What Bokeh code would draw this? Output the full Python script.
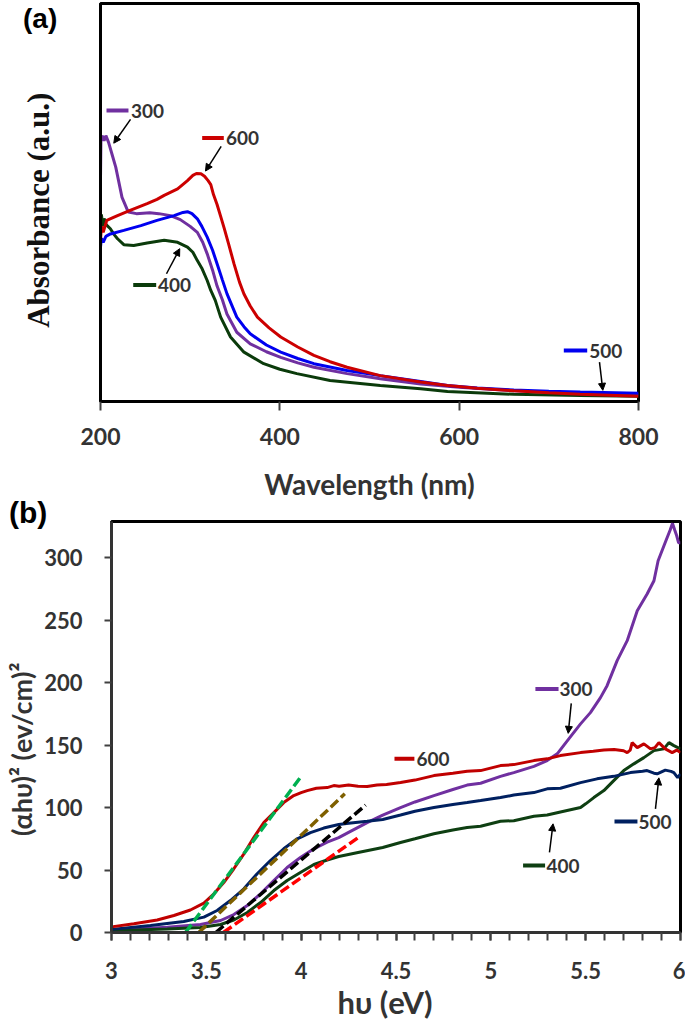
from bokeh.plotting import figure
from bokeh.models import FixedTicker, Range1d, Arrow, NormalHead, Div
from bokeh.embed import file_html
from bokeh.resources import INLINE
from bokeh.core.properties import value

# ---------------- Panel (a): absorbance vs wavelength ----------------
wl_300 = [200, 200.5, 202, 204, 206, 209, 213, 217, 224, 231, 240, 255, 265, 278, 289, 300, 308, 314, 319, 325, 330, 336, 341, 352, 367, 385, 401, 420, 438, 475, 512, 557, 600, 661, 735, 800]
ab_300 = [0.56, 0.66, 0.668, 0.655, 0.668, 0.651, 0.62, 0.589, 0.513, 0.476, 0.472, 0.474, 0.472, 0.467, 0.457, 0.44, 0.425, 0.40, 0.371, 0.33, 0.29, 0.255, 0.22, 0.174, 0.145, 0.125, 0.111, 0.097, 0.086, 0.07, 0.057, 0.044, 0.036, 0.027, 0.021, 0.018]

wl_400 = [200, 201, 202.5, 204, 206, 211, 215, 219, 226, 237, 252, 271, 286, 297, 303, 308, 313, 319, 323, 328, 334, 345, 360, 382, 400, 419, 456, 512, 557, 587, 661, 735, 800]
ab_400 = [0.44, 0.47, 0.44, 0.46, 0.445, 0.434, 0.42, 0.409, 0.394, 0.392, 0.398, 0.405, 0.40, 0.388, 0.375, 0.354, 0.335, 0.304, 0.279, 0.254, 0.212, 0.162, 0.124, 0.095, 0.081, 0.07, 0.053, 0.04, 0.032, 0.025, 0.018, 0.015, 0.013]

wl_500 = [200, 201, 203, 206, 211, 226, 245, 263, 282, 292, 297, 302, 308, 313, 319, 325, 330, 336, 341, 352, 360, 367, 385, 401, 420, 438, 475, 512, 557, 587, 620, 661, 700, 735, 800]
ab_500 = [0.388, 0.41, 0.40, 0.415, 0.421, 0.43, 0.442, 0.455, 0.467, 0.475, 0.477, 0.472, 0.459, 0.44, 0.413, 0.38, 0.346, 0.305, 0.271, 0.212, 0.188, 0.17, 0.142, 0.124, 0.108, 0.095, 0.078, 0.065, 0.05, 0.04, 0.034, 0.029, 0.026, 0.024, 0.021]

wl_600 = [200, 201, 203, 207, 212, 219, 233, 252, 263, 271, 286, 297, 303, 307, 312, 316, 320, 323, 326, 330, 334, 338, 343, 349, 355, 360, 367, 375, 388, 401, 420, 438, 456, 475, 512, 557, 587, 620, 661, 700, 735, 800]
ab_600 = [0.405, 0.44, 0.425, 0.455, 0.46, 0.467, 0.48, 0.497, 0.508, 0.518, 0.534, 0.555, 0.568, 0.573, 0.572, 0.566, 0.555, 0.545, 0.52, 0.495, 0.465, 0.435, 0.395, 0.345, 0.30, 0.27, 0.24, 0.212, 0.185, 0.162, 0.137, 0.116, 0.10, 0.086, 0.065, 0.049, 0.04, 0.033, 0.027, 0.022, 0.018, 0.013]

a_ticks = [200, 400, 600, 800]

# ---------------- Panel (b): Tauc plot ----------------
E_300 = [3.0, 3.294, 3.469, 3.575, 3.645, 3.716, 3.786, 3.856, 3.926, 3.996, 4.067, 4.137, 4.198, 4.26, 4.348, 4.43, 4.524, 4.6, 4.7, 4.8, 4.875, 4.946, 5.051, 5.121, 5.227, 5.297, 5.35, 5.411, 5.473, 5.525, 5.578, 5.613, 5.666, 5.719, 5.772, 5.824, 5.86, 5.882, 5.923, 5.945, 5.958, 5.97, 5.98, 5.99, 6.0]
T_300 = [1.8, 4.3, 6.4, 9.6, 14.4, 21.6, 31, 41.6, 52, 60, 67, 72.3, 76, 81, 88, 94, 100, 104.5, 109.6, 114.5, 118, 119.5, 125, 128, 133, 137.6, 143, 155, 167, 176, 188, 197.6, 217.6, 233.6, 257.6, 271, 281.6, 297.6, 313.6, 322, 327.5, 322, 317.6, 312, 312]

E_400 = [3.0, 3.294, 3.469, 3.575, 3.645, 3.716, 3.786, 3.856, 3.926, 3.996, 4.067, 4.137, 4.198, 4.3, 4.43, 4.524, 4.6, 4.7, 4.8, 4.875, 4.946, 5.051, 5.121, 5.227, 5.297, 5.367, 5.473, 5.5, 5.543, 5.596, 5.648, 5.701, 5.754, 5.807, 5.86, 5.912, 5.939, 5.965, 6.0]
T_400 = [1.5, 2.8, 4, 6.4, 10, 16, 24, 33.6, 41.6, 48, 54.4, 58, 60.8, 64, 68, 72, 75, 79, 82, 84, 85, 89, 89.5, 93, 94, 96.5, 100, 103, 108, 113.6, 121.6, 129.6, 135, 140, 145.6, 147, 152, 149.6, 147]

E_500 = [3.0, 3.206, 3.381, 3.487, 3.557, 3.627, 3.698, 3.768, 3.838, 3.908, 3.979, 4.049, 4.119, 4.198, 4.25, 4.348, 4.43, 4.524, 4.6, 4.7, 4.8, 4.875, 4.946, 5.051, 5.121, 5.227, 5.297, 5.367, 5.473, 5.56, 5.648, 5.736, 5.8, 5.824, 5.86, 5.877, 5.92, 5.95, 5.965, 5.985, 6.0]
T_500 = [2.5, 5.6, 8.8, 12.3, 17.6, 25.6, 35, 47, 57.6, 67, 75, 80, 83.6, 86.5, 87.5, 89, 90.5, 94, 97, 100, 102.5, 104, 105.6, 108, 110, 112, 115, 115.5, 120, 123, 125, 128, 129, 129.6, 127.5, 127, 130, 129, 128, 124, 127]

E_600 = [3.0, 3.118, 3.241, 3.329, 3.416, 3.487, 3.54, 3.592, 3.645, 3.698, 3.75, 3.803, 3.856, 3.908, 3.961, 4.0, 4.032, 4.08, 4.137, 4.172, 4.2, 4.25, 4.3, 4.348, 4.4, 4.45, 4.524, 4.6, 4.7, 4.8, 4.875, 4.946, 5.051, 5.121, 5.227, 5.297, 5.367, 5.473, 5.54, 5.596, 5.65, 5.7, 5.719, 5.735, 5.745, 5.772, 5.807, 5.842, 5.865, 5.886, 5.92, 5.956, 5.98, 6.0]
T_600 = [4.5, 7, 10, 13.6, 18, 23.5, 31, 40, 51, 63, 76, 88, 96, 104, 109.6, 112, 113.6, 115.5, 116, 117.6, 117, 118, 117, 116.8, 118, 118.5, 120, 122, 125.6, 127.5, 129, 129.6, 133.6, 134.4, 137.6, 139, 141.6, 144, 145, 146, 146.5, 145.5, 144, 146, 152, 148, 151, 147, 148, 152, 147, 144, 146, 144]

# linear fits (extrapolated to the energy axis)
fit_E0 = [3.39, 3.46, 3.55, 3.59]
fit_E1 = [4.00, 4.23, 4.34, 4.31]
fit_T0 = [0, 0, 0, 0]
fit_T1 = [125, 111, 102, 77]
fit_colors = ["#00B050", "#7F6000", "#000000", "#FF0000"]

b_ticks = [3, 3.5, 4, 4.5, 5, 5.5, 6]
b_tick_labels = {3: "3", 3.5: "3.5", 4: "4", 4.5: "4.5", 5: "5", 5.5: "5.5", 6: "6"}
b_yticks = [0, 50, 100, 150, 200, 250, 300]

FONT = "Lato"
TXT = "#333333"
NB = "\u00a0"


def panel_tag(txt, left, top, size):
    return Div(text=txt, width=45, height=36,
               styles={"position": "absolute", "left": f"{left}px", "top": f"{top}px",
                       "font-family": "'Liberation Sans', Arial, sans-serif",
                       "font-size": f"{size}px", "font-weight": "bold", "color": "black",
                       "line-height": "1", "margin": "0", "padding": "0"})


# ================= figure (a) =================
p1 = figure(width=685, height=508, output_backend="svg", toolbar_location=None,
            x_range=Range1d(200, 800), y_range=Range1d(0, 1),
            min_border_left=100, min_border_right=47, min_border_top=3, min_border_bottom=107)
p1.outline_line_color = "black"
p1.outline_line_width = 3
p1.grid.visible = False

cols_a = {"300": "#7030A0", "400": "#0B3B0B", "500": "#0000F0", "600": "#CC0000"}
p1.line(wl_300, ab_300, line_color=cols_a["300"], line_width=3)
p1.line(wl_400, ab_400, line_color=cols_a["400"], line_width=3)
p1.line(wl_500, ab_500, line_color=cols_a["500"], line_width=3)
p1.line(wl_600, ab_600, line_color=cols_a["600"], line_width=3)

xa = p1.xaxis[0]
xa.ticker = FixedTicker(ticks=a_ticks)
xa.minor_tick_line_color = None
xa.major_tick_out = 9
xa.major_tick_in = 0
xa.major_tick_line_width = 2
xa.major_tick_line_color = "#404040"
xa.axis_line_color = "black"
xa.axis_line_width = 3
xa.major_label_text_font = FONT
xa.major_label_text_font_style = "bold"
xa.major_label_text_font_size = "23px"
xa.major_label_text_color = TXT
xa.major_label_standoff = 17
xa.axis_label = "Wavelength (nm)"
xa.axis_label_text_font = FONT
xa.axis_label_text_font_style = "bold"
xa.axis_label_text_font_size = "28px"
xa.axis_label_text_color = TXT
xa.axis_label_standoff = 19

ya = p1.yaxis[0]
ya.ticker = FixedTicker(ticks=[])
ya.major_tick_out = 0
ya.major_tick_in = 0
ya.minor_tick_line_color = None
ya.major_label_standoff = 0
ya.axis_line_color = "black"
ya.axis_line_width = 3
ya.axis_label = "Absorbance (a.u.)" + NB * 2
ya.axis_label_text_font = "Liberation Serif"
ya.axis_label_text_font_style = "bold"
ya.axis_label_text_font_size = "31px"
ya.axis_label_text_color = "#111111"
ya.axis_label_standoff = 45

# annotations (a)
a_names = ["300", "600", "400", "500"]
a_seg_x0 = [206.7, 313.4, 236.5, 716.7]
a_seg_x1 = [231.2, 337.5, 262.1, 742.8]
a_seg_y = [0.731, 0.662, 0.293, 0.128]
a_txt_x = [234.0, 340.0, 264.0, 745.0]
a_arr = [(233.5, 0.709, 214.8, 0.649), (334.6, 0.641, 317.1, 0.579),
         (273.6, 0.321, 288.4, 0.384), (756.5, 0.099, 760.2, 0.028)]
p1.segment(a_seg_x0, a_seg_y, a_seg_x1, a_seg_y,
           line_color=[cols_a[n] for n in a_names], line_width=4)
p1.text(a_txt_x, a_seg_y, text=a_names, text_font=value(FONT), text_font_style="bold",
        text_font_size="19px", text_color=TXT, text_baseline="middle", text_align="left")
for xs, ys, xe, ye in a_arr:
    p1.add_layout(Arrow(end=NormalHead(size=7, fill_color="black", line_color="black", line_width=1),
                        x_start=xs, y_start=ys, x_end=xe, y_end=ye,
                        line_color="black", line_width=1.5))

# ================= figure (b) =================
p2 = figure(width=685, height=515, output_backend="svg", toolbar_location=None,
            x_range=Range1d(3, 6), y_range=Range1d(0, 329),
            min_border_left=111, min_border_right=5, min_border_top=13, min_border_bottom=91)
p2.outline_line_color = "black"
p2.outline_line_width = 3
p2.grid.visible = False

cols_b = {"300": "#7030A0", "400": "#0E3F12", "500": "#002060", "600": "#C00000"}
p2.line(E_300, T_300, line_color=cols_b["300"], line_width=3)
p2.line(E_400, T_400, line_color=cols_b["400"], line_width=3)
p2.line(E_500, T_500, line_color=cols_b["500"], line_width=3)
p2.line(E_600, T_600, line_color=cols_b["600"], line_width=3)
p2.segment(fit_E0, fit_T0, fit_E1, fit_T1, line_color=fit_colors, line_width=3.5, line_dash="10 4")

xb = p2.xaxis[0]
xb.ticker = FixedTicker(ticks=b_ticks, minor_ticks=[round(3 + 0.1 * i, 2) for i in range(31)])
xb.major_label_overrides = b_tick_labels
xb.major_tick_out = 8
xb.major_tick_in = 0
xb.minor_tick_out = 8
xb.minor_tick_in = 0
xb.major_tick_line_width = 2
xb.minor_tick_line_width = 2
xb.major_tick_line_color = "#404040"
xb.minor_tick_line_color = "#404040"
xb.axis_line_color = "#333333"
xb.axis_line_width = 3
xb.major_label_text_font = FONT
xb.major_label_text_font_style = "bold"
xb.major_label_text_font_size = "22px"
xb.major_label_text_color = TXT
xb.major_label_standoff = 21
xb.axis_label = "hυ (eV)" + NB * 3
xb.axis_label_text_font = FONT
xb.axis_label_text_font_style = "bold"
xb.axis_label_text_font_size = "31px"
xb.axis_label_text_color = TXT
xb.axis_label_standoff = 1

yb = p2.yaxis[0]
yb.ticker = FixedTicker(ticks=b_yticks)
yb.minor_tick_line_color = None
yb.major_tick_out = 7
yb.major_tick_in = 0
yb.major_tick_line_width = 2
yb.major_tick_line_color = "#404040"
yb.axis_line_color = "#333333"
yb.axis_line_width = 3
yb.major_label_text_font = FONT
yb.major_label_text_font_style = "bold"
yb.major_label_text_font_size = "22px"
yb.major_label_text_color = TXT
yb.major_label_standoff = 22
yb.axis_label = "(αhυ)² (ev/cm)²" + NB * 7
yb.axis_label_text_font = FONT
yb.axis_label_text_font_style = "bold"
yb.axis_label_text_font_size = "27px"
yb.axis_label_text_color = TXT
yb.axis_label_standoff = 3

b_names = ["600", "300", "500", "400"]
b_seg_x0 = [4.492, 5.235, 5.652, 5.170]
b_seg_x1 = [4.597, 5.357, 5.773, 5.286]
b_seg_y = [139, 195, 88.8, 53.6]
b_txt_x = [4.608, 5.362, 5.779, 5.293]
b_arr = [(5.424, 183.4, 5.408, 159.4), (5.868, 99, 5.886, 123.8), (5.309, 64.2, 5.328, 87)]
p2.segment(b_seg_x0, b_seg_y, b_seg_x1, b_seg_y,
           line_color=[cols_b[n] for n in b_names], line_width=4)
p2.text(b_txt_x, b_seg_y, text=b_names, text_font=value(FONT), text_font_style="bold",
        text_font_size="19px", text_color=TXT, text_baseline="middle", text_align="left")
for xs, ys, xe, ye in b_arr:
    p2.add_layout(Arrow(end=NormalHead(size=7, fill_color="black", line_color="black", line_width=1),
                        x_start=xs, y_start=ys, x_end=xe, y_end=ye,
                        line_color="black", line_width=1.5))

tag_a = panel_tag("(a)", 23, 5, 28)
tag_b = panel_tag("(b)", 9, 498, 30)

open("out.html", "w").write(file_html([p1, p2, tag_a, tag_b], INLINE))
